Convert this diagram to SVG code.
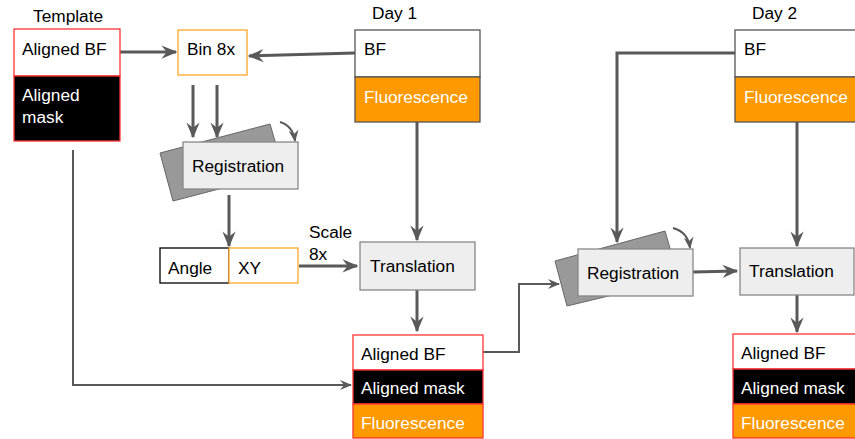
<svg xmlns="http://www.w3.org/2000/svg" width="855" height="439" viewBox="0 0 855 439">
  <style>
    text { font-family: "Liberation Sans", Arial, sans-serif; font-size: 17.3px; fill: #000; }
    .w { fill: #fff; }
    .edge { fill: none; stroke: #595959; stroke-width: 3; }
    .thin { fill: none; stroke: #595959; stroke-width: 2; }
    .red { stroke: #ff3333; stroke-width: 1.3; }
    .org { stroke: #ffa726; stroke-width: 1.3; }
    .blk { stroke: #000; stroke-width: 1.3; }
    .box { fill: #eeeeee; stroke: #888; stroke-width: 1.3; }
    .back { fill: #999; stroke: #666; stroke-width: 1; }
    .dgrey { stroke: #555; stroke-width: 1.3; }
  </style>
  <defs>
    <marker id="arr" viewBox="0 0 12 10" refX="11" refY="5" markerWidth="5.3" markerHeight="4.8" markerUnits="strokeWidth" orient="auto">
      <path d="M0,0 L12,5 L0,10 L4,5 z" fill="#595959"/>
    </marker>
    <marker id="arrs" viewBox="0 0 12 10" refX="11" refY="5" markerWidth="6" markerHeight="5" markerUnits="strokeWidth" orient="auto">
      <path d="M0,0 L12,5 L0,10 L4,5 z" fill="#595959"/>
    </marker>
  </defs>

  <!-- headings -->
  <text x="33" y="22">Template</text>
  <text x="372" y="19">Day 1</text>
  <text x="752" y="19">Day 2</text>

  <!-- connectors -->
  <g id="connectors">
    <path class="edge" d="M120,52 L176,52" marker-end="url(#arr)"/>
    <path class="edge" d="M355,53 L249,56" marker-end="url(#arr)"/>
    <path class="edge" d="M193,85 L193,137" marker-end="url(#arr)"/>
    <path class="edge" d="M217,85 L217,137" marker-end="url(#arr)"/>
    <path class="thin" d="M280,122 Q293,126 295,141" marker-end="url(#arrs)"/>
    <path class="edge" d="M229,195 L229,246" marker-end="url(#arr)"/>
    <path class="edge" d="M299,266 L357,266" marker-end="url(#arr)"/>
    <path class="edge" d="M417,122 L417,240" marker-end="url(#arr)"/>
    <path class="edge" d="M417,290 L417,331" marker-end="url(#arr)"/>
    <path class="thin" d="M73,150 L73,385 L351,385" marker-end="url(#arrs)"/>
    <path class="thin" d="M483,352 L519,352 L519,284 L559,284" marker-end="url(#arrs)"/>
    <path class="edge" d="M735,53 L617,53 L617,242" marker-end="url(#arr)"/>
    <path class="thin" d="M673,228 Q688,232 690,248" marker-end="url(#arrs)"/>
    <path class="edge" d="M693,272 L737,271" marker-end="url(#arr)"/>
    <path class="edge" d="M797,122 L797,246" marker-end="url(#arr)"/>
    <path class="edge" d="M797,295 L797,332" marker-end="url(#arr)"/>
  </g>

  <!-- template stack -->
  <g id="template">
    <rect x="14" y="29" width="106" height="47" fill="#fff" class="red"/>
    <rect x="14" y="76" width="106" height="65" fill="#000" class="red"/>
    <text x="22" y="55">Aligned BF</text>
    <text x="22" y="101" class="w">Aligned</text>
    <text x="22" y="123" class="w">mask</text>
  </g>

  <g id="bin8x">
    <rect x="178" y="30" width="69" height="45" fill="#fff" class="org"/>
    <text x="187" y="55">Bin 8x</text>
  </g>

  <g id="day1">
    <rect x="355" y="30" width="125" height="47" fill="#fff" class="dgrey"/>
    <rect x="355" y="77" width="125" height="45" fill="#ff9900" class="dgrey"/>
    <text x="364" y="55">BF</text>
    <text x="364" y="103" class="w">Fluorescence</text>
  </g>

  <g id="registration1">
    <polygon class="back" points="160,153 270,124 284,172 173,201"/>
    <rect x="183" y="142" width="115" height="47" class="box"/>
    <text x="192" y="172">Registration</text>
  </g>

  <g id="angle-xy">
    <rect x="160" y="248" width="69" height="35" fill="#fff" class="blk"/>
    <rect x="229" y="248" width="69" height="35" fill="#fff" class="org"/>
    <text x="168" y="274">Angle</text>
    <text x="238" y="274">XY</text>
  </g>

  <g id="scale-label">
    <text x="309" y="238">Scale</text>
    <text x="309" y="260">8x</text>
  </g>

  <g id="translation1">
    <rect x="360" y="242" width="115" height="48" class="box"/>
    <text x="370" y="272">Translation</text>
  </g>

  <g id="aligned1">
    <rect x="353" y="335" width="130" height="35" fill="#fff" class="red"/>
    <rect x="353" y="370" width="130" height="34" fill="#000" class="red"/>
    <rect x="353" y="404" width="130" height="34" fill="#ff9900" class="red"/>
    <text x="361" y="360">Aligned BF</text>
    <text x="361" y="394" class="w">Aligned mask</text>
    <text x="361" y="429" class="w">Fluorescence</text>
  </g>

  <g id="registration2">
    <polygon class="back" points="555,261 665,231 679,279 567,306"/>
    <rect x="578" y="249" width="115" height="47" class="box"/>
    <text x="587" y="279">Registration</text>
  </g>

  <g id="day2">
    <rect x="735" y="30" width="125" height="47" fill="#fff" class="dgrey"/>
    <rect x="735" y="77" width="125" height="45" fill="#ff9900" class="dgrey"/>
    <text x="744" y="55">BF</text>
    <text x="744" y="103" class="w">Fluorescence</text>
  </g>

  <g id="translation2">
    <rect x="740" y="248" width="114" height="47" class="box"/>
    <text x="749" y="277">Translation</text>
  </g>

  <g id="aligned2">
    <rect x="733" y="334" width="130" height="35" fill="#fff" class="red"/>
    <rect x="733" y="369" width="130" height="35" fill="#000" class="red"/>
    <rect x="733" y="404" width="130" height="34" fill="#ff9900" class="red"/>
    <text x="741" y="359">Aligned BF</text>
    <text x="741" y="394" class="w">Aligned mask</text>
    <text x="741" y="429" class="w">Fluorescence</text>
  </g>
</svg>
